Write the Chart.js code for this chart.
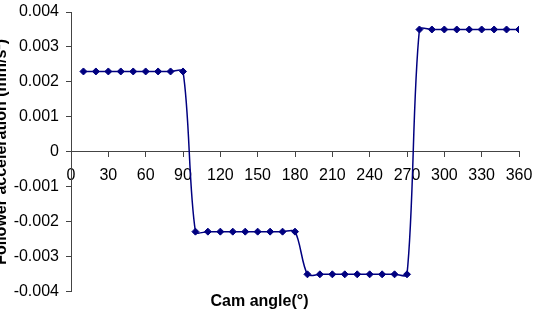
<!DOCTYPE html>
<html>
<head>
<meta charset="utf-8">
<script src="https://cdn.jsdelivr.net/npm/chart.js@4.4.1/dist/chart.umd.min.js"></script>
<style>
    html, body { margin: 0; padding: 0; background: #fff; }
    #wrap { width: 533px; height: 312px; }
</style>
</head>
<body>
<div id="wrap"><canvas id="accelChart"></canvas></div>
<script>
// Follower acceleration vs cam angle

const camAngles = [10, 20, 30, 40, 50, 60, 70, 80, 90,
    100, 110, 120, 130, 140, 150, 160, 170, 180,
    190, 200, 210, 220, 230, 240, 250, 260, 270,
    280, 290, 300, 310, 320, 330, 340, 350, 360];
const followerAccel = [0.0023, 0.0023, 0.0023, 0.0023, 0.0023, 0.0023, 0.0023, 0.0023, 0.0023,
    -0.00228, -0.00228, -0.00228, -0.00228, -0.00228, -0.00228, -0.00228, -0.00228, -0.00228,
    -0.0035, -0.0035, -0.0035, -0.0035, -0.0035, -0.0035, -0.0035, -0.0035, -0.0035,
    0.0035, 0.0035, 0.0035, 0.0035, 0.0035, 0.0035, 0.0035, 0.0035, 0.0035];
const xTicks = [0, 30, 60, 90, 120, 150, 180, 210, 240, 270, 300, 330, 360];
const yTicks = [-0.004, -0.003, -0.002, -0.001, 0, 0.001, 0.002, 0.003, 0.004];

Chart.defaults.font.family = '"Liberation Sans", Arial, sans-serif';
Chart.defaults.color = '#000';

const axisColor = '#444';

// keep the axes from pushing the plot area around
function noPadding(s) {
    s.paddingLeft = 0;
    s.paddingRight = 0;
    s.paddingTop = 0;
    s.paddingBottom = 0;
}

new Chart(document.getElementById('accelChart'), {
    type: 'line',
    data: {
        datasets: [{
            data: camAngles.map((a, i) => ({ x: a, y: followerAccel[i] })),
            borderColor: '#000080',
            borderWidth: 1.5,
            backgroundColor: '#000080',
            pointStyle: 'rectRot',
            pointRadius: 3.5,
            pointBorderWidth: 1,
            pointBorderColor: '#000080',
            tension: 0.3,
            fill: false
        }]
    },
    options: {
        responsive: true,
        maintainAspectRatio: false,
        animation: false,
        layout: { padding: { top: 12, right: 14, bottom: 0, left: 0 } },
        plugins: {
            legend: { display: false },
            tooltip: { enabled: false },
            title: {
                display: true,
                position: 'bottom',
                text: 'Cam angle(°)',
                font: { size: 16, weight: 'bold' },
                padding: { top: 0, bottom: 1 }
            }
        },
        scales: {
            x: {
                type: 'linear',
                min: 0,
                max: 360,
                position: { y: 0 },
                afterBuildTicks: s => { s.ticks = xTicks.map(v => ({ value: v })); },
                afterFit: noPadding,
                ticks: { font: { size: 16 }, padding: 9, maxRotation: 0 },
                grid: { drawOnChartArea: false, drawTicks: true, tickLength: 5, color: axisColor },
                border: { display: true, color: axisColor, width: 1 }
            },
            y: {
                type: 'linear',
                min: -0.004,
                max: 0.004,
                afterBuildTicks: s => { s.ticks = yTicks.map(v => ({ value: v })); },
                afterFit: s => { s.width = 71; noPadding(s); },
                ticks: {
                    font: { size: 16 },
                    padding: 7,
                    callback: v => Math.abs(v) < 1e-9 ? '0' : v.toFixed(3)
                },
                grid: { drawOnChartArea: false, drawTicks: true, tickLength: 5, color: axisColor },
                border: { display: true, color: axisColor, width: 1 },
                title: {
                    display: true,
                    text: 'Follower acceleration (mm/s²)',
                    font: { size: 16, weight: 'bold' },
                    padding: { top: -8, bottom: 0 }
                }
            }
        }
    }
});
</script>
</body>
</html>
